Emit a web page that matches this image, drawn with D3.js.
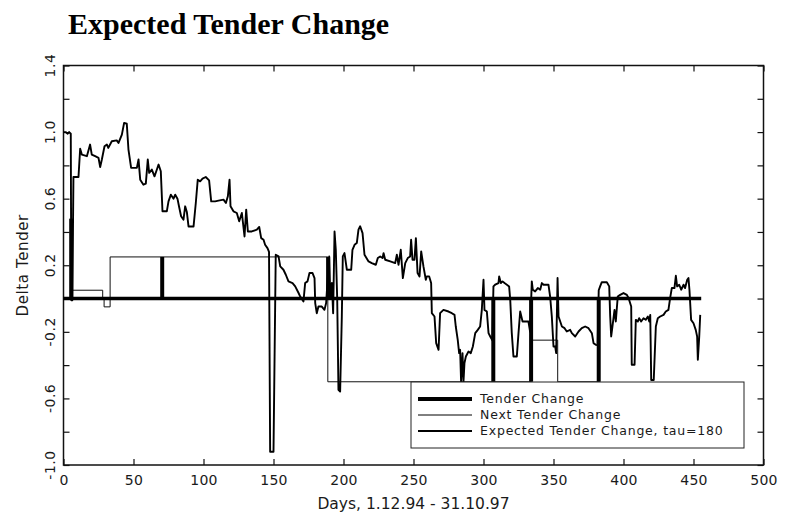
<!DOCTYPE html>
<html>
<head>
<meta charset="utf-8">
<script src="https://cdn.jsdelivr.net/npm/d3@7"></script>
<style>
  body { margin: 0; background: #fff; }
  svg { display: block; }
  .tick text, .lbl { font-family: "DejaVu Sans", sans-serif; fill: #1a1a1a; }
</style>
</head>
<body>
<div id="chart"></div>
<script>
// --------------------------------------
//  Data
// --------------------------------------

const xTicks = [0, 50, 100, 150, 200, 250, 300, 350, 400, 450, 500];
const yTicks = [-1.0, -0.8, -0.6, -0.4, -0.2, 0, 0.2, 0.4, 0.6, 0.8, 1.0, 1.2, 1.4];
const yLabels = [-1.0, -0.6, -0.2, 0.2, 0.6, 1.0, 1.4];

// thick line: zero except on tender days
const tenderEnd = 455.5;
const tenderDays = [5.5, 70.5, 189, 307, 334, 382.3];
const tenderValues = [0.48, 0.25, 0.25, -0.5, -0.5, -0.5];

// thin step line: next tender change
const nextDays = [5.5, 28, 29, 33.3, 188.8, 334, 353, 383];
const nextValues = [0.05, 0.0, -0.05, 0.25, -0.5, -0.25, -0.5, -0.5];

// expected tender change, tau=180
const expDays = [0, 1.5, 3, 4, 5.2, 5.6, 6.3, 7.1, 10.7, 11.9, 13.1, 16.7, 19, 20.2, 22.6, 25, 26.2, 27.4, 29.3, 31,
  32, 34.5, 38, 39.3, 41.7, 43.3, 45.2, 46.4, 48.3, 52.4, 53.6, 54.8, 57.1, 58.8, 60.2, 61.2, 63.1, 65, 66.7, 67.9,
  69.5, 70.7, 73.8, 75, 76.7, 78.6, 79.8, 81.4, 82.6, 84, 85.7, 86.9, 88.1, 89.3, 92.9, 94.5, 95.9, 97.6, 99.3, 101.6,
  104, 105.5, 108.3, 110.7, 114.3, 116, 117.4, 118.6, 119.3, 121.4, 123.8, 125.5, 127.4, 129.3, 130.5, 131.7, 134.5, 138.1, 139.8, 141.2,
  142.9, 144, 145.7, 146.8, 147.6, 150, 151.6, 153.6, 154.8, 157.1, 158.8, 160.7, 163.6, 165.5, 167.9, 169.1, 171.4, 172.6, 174.3, 175.7,
  177.9, 179.3, 179.8, 180.9, 182.1, 184.5, 186.4, 187.6, 188.8, 189.8, 190.6, 191.7, 192.6, 193.6, 194.5, 195.5, 196.4, 197.6, 198.8, 199.5,
  200.7, 202.4, 205.5, 206.4, 207.9, 209.5, 210.7, 211.9, 213.6, 215, 217.9, 220.2, 223.1, 224.5, 226.2, 227.9, 228.6, 229.8, 233.4, 236.9,
  238.1, 239.3, 240.9, 242.4, 244.1, 245.9, 247.6, 248.3, 249.3, 250.7, 251.7, 252.9, 254.3, 255.5, 257.1, 258.8, 259.5, 261.2, 262.6, 263.1,
  265, 266.2, 267.9, 269, 271.4, 275, 277.4, 279.3, 280.2, 281.6, 282.6, 283.3, 284, 285, 285.7, 286.4, 287.4, 289.3, 290.9, 292.4,
  294.1, 295.9, 297.6, 298.8, 300, 300.7, 302.4, 303.6, 304.8, 306.3, 307.1, 308.3, 310.7, 311.2, 312.4, 313.6, 315, 316.7, 318.3, 319.1,
  320.2, 321.4, 323.8, 325, 326.2, 327.9, 329.8, 332.1, 333.3, 334.5, 335.2, 336.9, 338.8, 340.5, 341.7, 342.9, 346.4, 347.6, 348.8, 350,
  351.2, 351.9, 352.9, 353.6, 356, 357.9, 359.5, 361.9, 363.1, 365.5, 367.9, 370.2, 372.6, 375, 377.4, 378.6, 380.2, 381.5, 382.3, 383.3,
  384.5, 388.1, 389.8, 390.5, 391.2, 392.1, 393.6, 394.5, 395.9, 397.6, 400, 402.4, 403.6, 405.5, 405.9, 407.9, 408.8, 410.2, 411.2, 412.6,
  414.3, 415.9, 417.4, 418.4, 419.1, 419.8, 421.6, 423.1, 424.5, 426.2, 428.6, 430.2, 432.1, 433.3, 434.5, 436.4, 437.4, 438.3, 439.8, 441.2,
  442.9, 444, 445.5, 446.4, 447.1, 448.3, 450, 451.6, 452.6, 453.1, 454.1, 454.8];
const expValues = [1.0, 1.0, 0.99, 1.0, 0.99, -0.01, -0.01, 0.73, 0.73, 0.9, 0.865, 0.855, 0.925, 0.865, 0.855, 0.845, 0.79, 0.835, 0.915, 0.925,
  0.905, 0.945, 0.95, 0.935, 0.985, 1.055, 1.05, 0.895, 0.785, 0.785, 0.835, 0.714, 0.684, 0.69, 0.835, 0.755, 0.775, 0.734, 0.775, 0.805,
  0.765, 0.524, 0.524, 0.584, 0.624, 0.6, 0.624, 0.6, 0.55, 0.494, 0.474, 0.554, 0.52, 0.433, 0.433, 0.574, 0.714, 0.704, 0.72, 0.73,
  0.71, 0.584, 0.584, 0.588, 0.594, 0.574, 0.614, 0.714, 0.554, 0.524, 0.514, 0.464, 0.514, 0.373, 0.534, 0.403, 0.403, 0.414, 0.43, 0.363,
  0.353, 0.323, 0.303, 0.28, -0.92, -0.92, 0.263, 0.253, 0.193, 0.173, 0.143, 0.103, 0.093, 0.073, 0.033, 0.012, -0.018, 0.093, 0.103, 0.153,
  0.153, 0.123, -0.027, -0.088, -0.048, -0.048, -0.068, -0.027, 0.133, 0.253, 0.0, 0.093, -0.088, 0.403, 0.293, 0.0, -0.549, -0.559, -0.108, 0.253,
  0.273, 0.173, 0.173, 0.293, 0.323, 0.333, 0.414, 0.434, 0.393, 0.263, 0.223, 0.213, 0.203, 0.243, 0.253, 0.243, 0.273, 0.233, 0.223, 0.213,
  0.263, 0.203, 0.293, 0.123, 0.213, 0.243, 0.253, 0.353, 0.233, 0.233, 0.363, 0.153, 0.133, 0.283, 0.193, 0.113, 0.133, 0.133, 0.093, -0.088,
  -0.108, -0.268, -0.308, -0.088, -0.068, -0.078, -0.088, -0.098, -0.168, -0.248, -0.328, -0.308, -0.499, -0.328, -0.499, -0.388, -0.348, -0.318, -0.328, -0.288,
  -0.208, -0.188, -0.168, -0.068, 0.113, -0.068, -0.078, -0.208, -0.228, -0.25, 0.073, 0.083, 0.093, 0.133, 0.093, 0.103, 0.093, 0.083, 0.073, -0.008,
  -0.208, -0.348, -0.348, -0.208, -0.078, -0.138, -0.138, -0.138, -0.2, 0.103, 0.053, 0.043, 0.063, 0.053, 0.093, 0.083, 0.083, 0.012, -0.108, -0.288,
  -0.288, -0.328, 0.123, -0.108, -0.168, -0.178, -0.198, -0.188, -0.208, -0.228, -0.198, -0.178, -0.168, -0.178, -0.208, -0.268, -0.278, -0.28, 0.05, 0.073,
  0.098, 0.098, 0.073, -0.108, -0.228, -0.168, -0.068, -0.138, 0.012, 0.022, 0.033, 0.022, 0.003, -0.048, -0.398, -0.398, -0.128, -0.138, -0.118, -0.138,
  -0.118, -0.128, -0.108, -0.138, -0.098, -0.489, -0.489, -0.168, -0.118, -0.108, -0.098, -0.078, -0.068, 0.003, 0.063, 0.063, 0.137, 0.073, 0.083, 0.053,
  0.083, 0.063, 0.113, 0.123, 0.053, -0.128, -0.148, -0.188, -0.228, -0.368, -0.228, -0.098];

const legendItems = [
  {label: "Tender Change", width: 4},
  {label: "Next Tender Change", width: 1},
  {label: "Expected Tender Change, tau=180", width: 2}
];

// --------------------------------------
//  Margin and canvas
// --------------------------------------

const width = 787;
const height = 529;
const margin = {top: 65.5, right: 23.5, bottom: 64, left: 63.5};
const innerWidth = width - margin.left - margin.right;
const innerHeight = height - margin.top - margin.bottom;

const svg = d3.select("#chart")
  .append("svg")
    .attr("width", width)
    .attr("height", height);

const inner = svg.append("g")
    .attr("transform", `translate(${margin.left}, ${margin.top})`);

// --------------------------------------
//  Scales
// --------------------------------------

const x = d3.scaleLinear().domain([0, 500]).range([0, innerWidth]);
const y = d3.scaleLinear().domain([-1.0, 1.4]).range([innerHeight, 0]);

// --------------------------------------
//  Title and axes
// --------------------------------------

svg.append("text")
    .attr("x", 68)
    .attr("y", 34)
    .attr("font-family", "'Liberation Serif', 'Times New Roman', serif")
    .attr("font-weight", "bold")
    .attr("font-size", 30)
    .attr("fill", "#000")
    .text("Expected Tender Change");

const tickStyle = g => {
  g.select(".domain").remove();
  g.selectAll(".tick line").attr("stroke", "#111").attr("stroke-width", 1.2);
};

// ticks only, no labels
const ticksOnly = g => {
  tickStyle(g);
  g.selectAll(".tick text").remove();
};

inner.append("g")
    .attr("transform", `translate(0, ${innerHeight})`)
    .call(d3.axisBottom(x).tickValues(xTicks).tickSize(-6).tickPadding(10))
    .call(tickStyle)
    .call(g => g.selectAll("text")
        .attr("font-size", 14).attr("letter-spacing", 0.3).attr("fill", "#1a1a1a"));

inner.append("g")
    .call(d3.axisTop(x).tickValues(xTicks).tickSize(-6))
    .call(ticksOnly);

inner.append("g")
    .call(d3.axisLeft(y).tickValues(yTicks).tickSize(-6))
    .call(ticksOnly);

inner.append("g")
    .attr("transform", `translate(${innerWidth}, 0)`)
    .call(d3.axisRight(y).tickValues(yTicks).tickSize(-6))
    .call(ticksOnly);

// rotated y tick labels
inner.append("g")
  .selectAll("text")
  .data(yLabels)
  .join("text")
    .attr("class", "lbl")
    .attr("transform", d => `translate(-8.5, ${y(d)}) rotate(-90)`)
    .attr("text-anchor", "middle")
    .attr("font-size", 14)
    .attr("letter-spacing", 0.5)
    .attr("fill", d => d === 1.4 ? "#aaa" : "#1a1a1a")
    .text(d => d3.format(".1f")(d).replace("\u2212", "-"));

// frame
inner.append("rect")
    .attr("width", innerWidth)
    .attr("height", innerHeight)
    .attr("fill", "none")
    .attr("stroke", "#111")
    .attr("stroke-width", 1.5);

svg.append("text")
    .attr("class", "lbl")
    .attr("x", margin.left + innerWidth / 2)
    .attr("y", 509)
    .attr("text-anchor", "middle")
    .attr("font-size", 15.5)
    .text("Days, 1.12.94 - 31.10.97");

svg.append("text")
    .attr("class", "lbl")
    .attr("transform", `translate(28, ${margin.top + innerHeight / 2}) rotate(-90)`)
    .attr("text-anchor", "middle")
    .attr("font-size", 15)
    .attr("letter-spacing", 0.6)
    .text("Delta Tender");

// --------------------------------------
//  Data drawing
// --------------------------------------

const line = d3.line().x(d => x(d[0])).y(d => y(d[1]));

// next tender change (thin step)
inner.append("path")
    .datum(nextDays.map((d, i) => [d, nextValues[i]]))
    .attr("d", line.curve(d3.curveStepAfter))
    .attr("fill", "none")
    .attr("stroke", "#111")
    .attr("stroke-width", 1);

line.curve(d3.curveLinear);

// expected tender change
inner.append("path")
    .datum(expDays.map((d, i) => [d, expValues[i]]))
    .attr("d", line)
    .attr("fill", "none")
    .attr("stroke", "#000")
    .attr("stroke-width", 1.9)
    .attr("stroke-linejoin", "round");

// tender change (thick)
inner.append("path")
    .datum([[0, 0], [tenderEnd, 0]])
    .attr("d", line)
    .attr("stroke", "#000")
    .attr("stroke-width", 3.5);

inner.append("g")
  .selectAll("path")
  .data(tenderDays.map((d, i) => [[d, 0], [d, tenderValues[i]]]))
  .join("path")
    .attr("d", line)
    .attr("stroke", "#000")
    .attr("stroke-width", 4);

// --------------------------------------
//  Legend
// --------------------------------------

const legend = svg.append("g")
    .attr("transform", "translate(411, 382)");

legend.append("rect")
    .attr("width", 333)
    .attr("height", 66)
    .attr("fill", "#fff")
    .attr("stroke", "#222")
    .attr("stroke-width", 1);

const rows = legend.selectAll(".row")
  .data(legendItems)
  .join("g")
    .attr("class", "row")
    .attr("transform", (d, i) => `translate(0, ${17 + i * 16})`);

rows.append("line")
    .attr("x1", 7).attr("x2", 61)
    .attr("stroke", "#000")
    .attr("stroke-width", d => d.width);

rows.append("text")
    .attr("class", "lbl")
    .attr("x", 69)
    .attr("dy", "0.35em")
    .attr("font-size", 12.5)
    .attr("letter-spacing", 0.8)
    .text(d => d.label);
</script>
</body>
</html>
